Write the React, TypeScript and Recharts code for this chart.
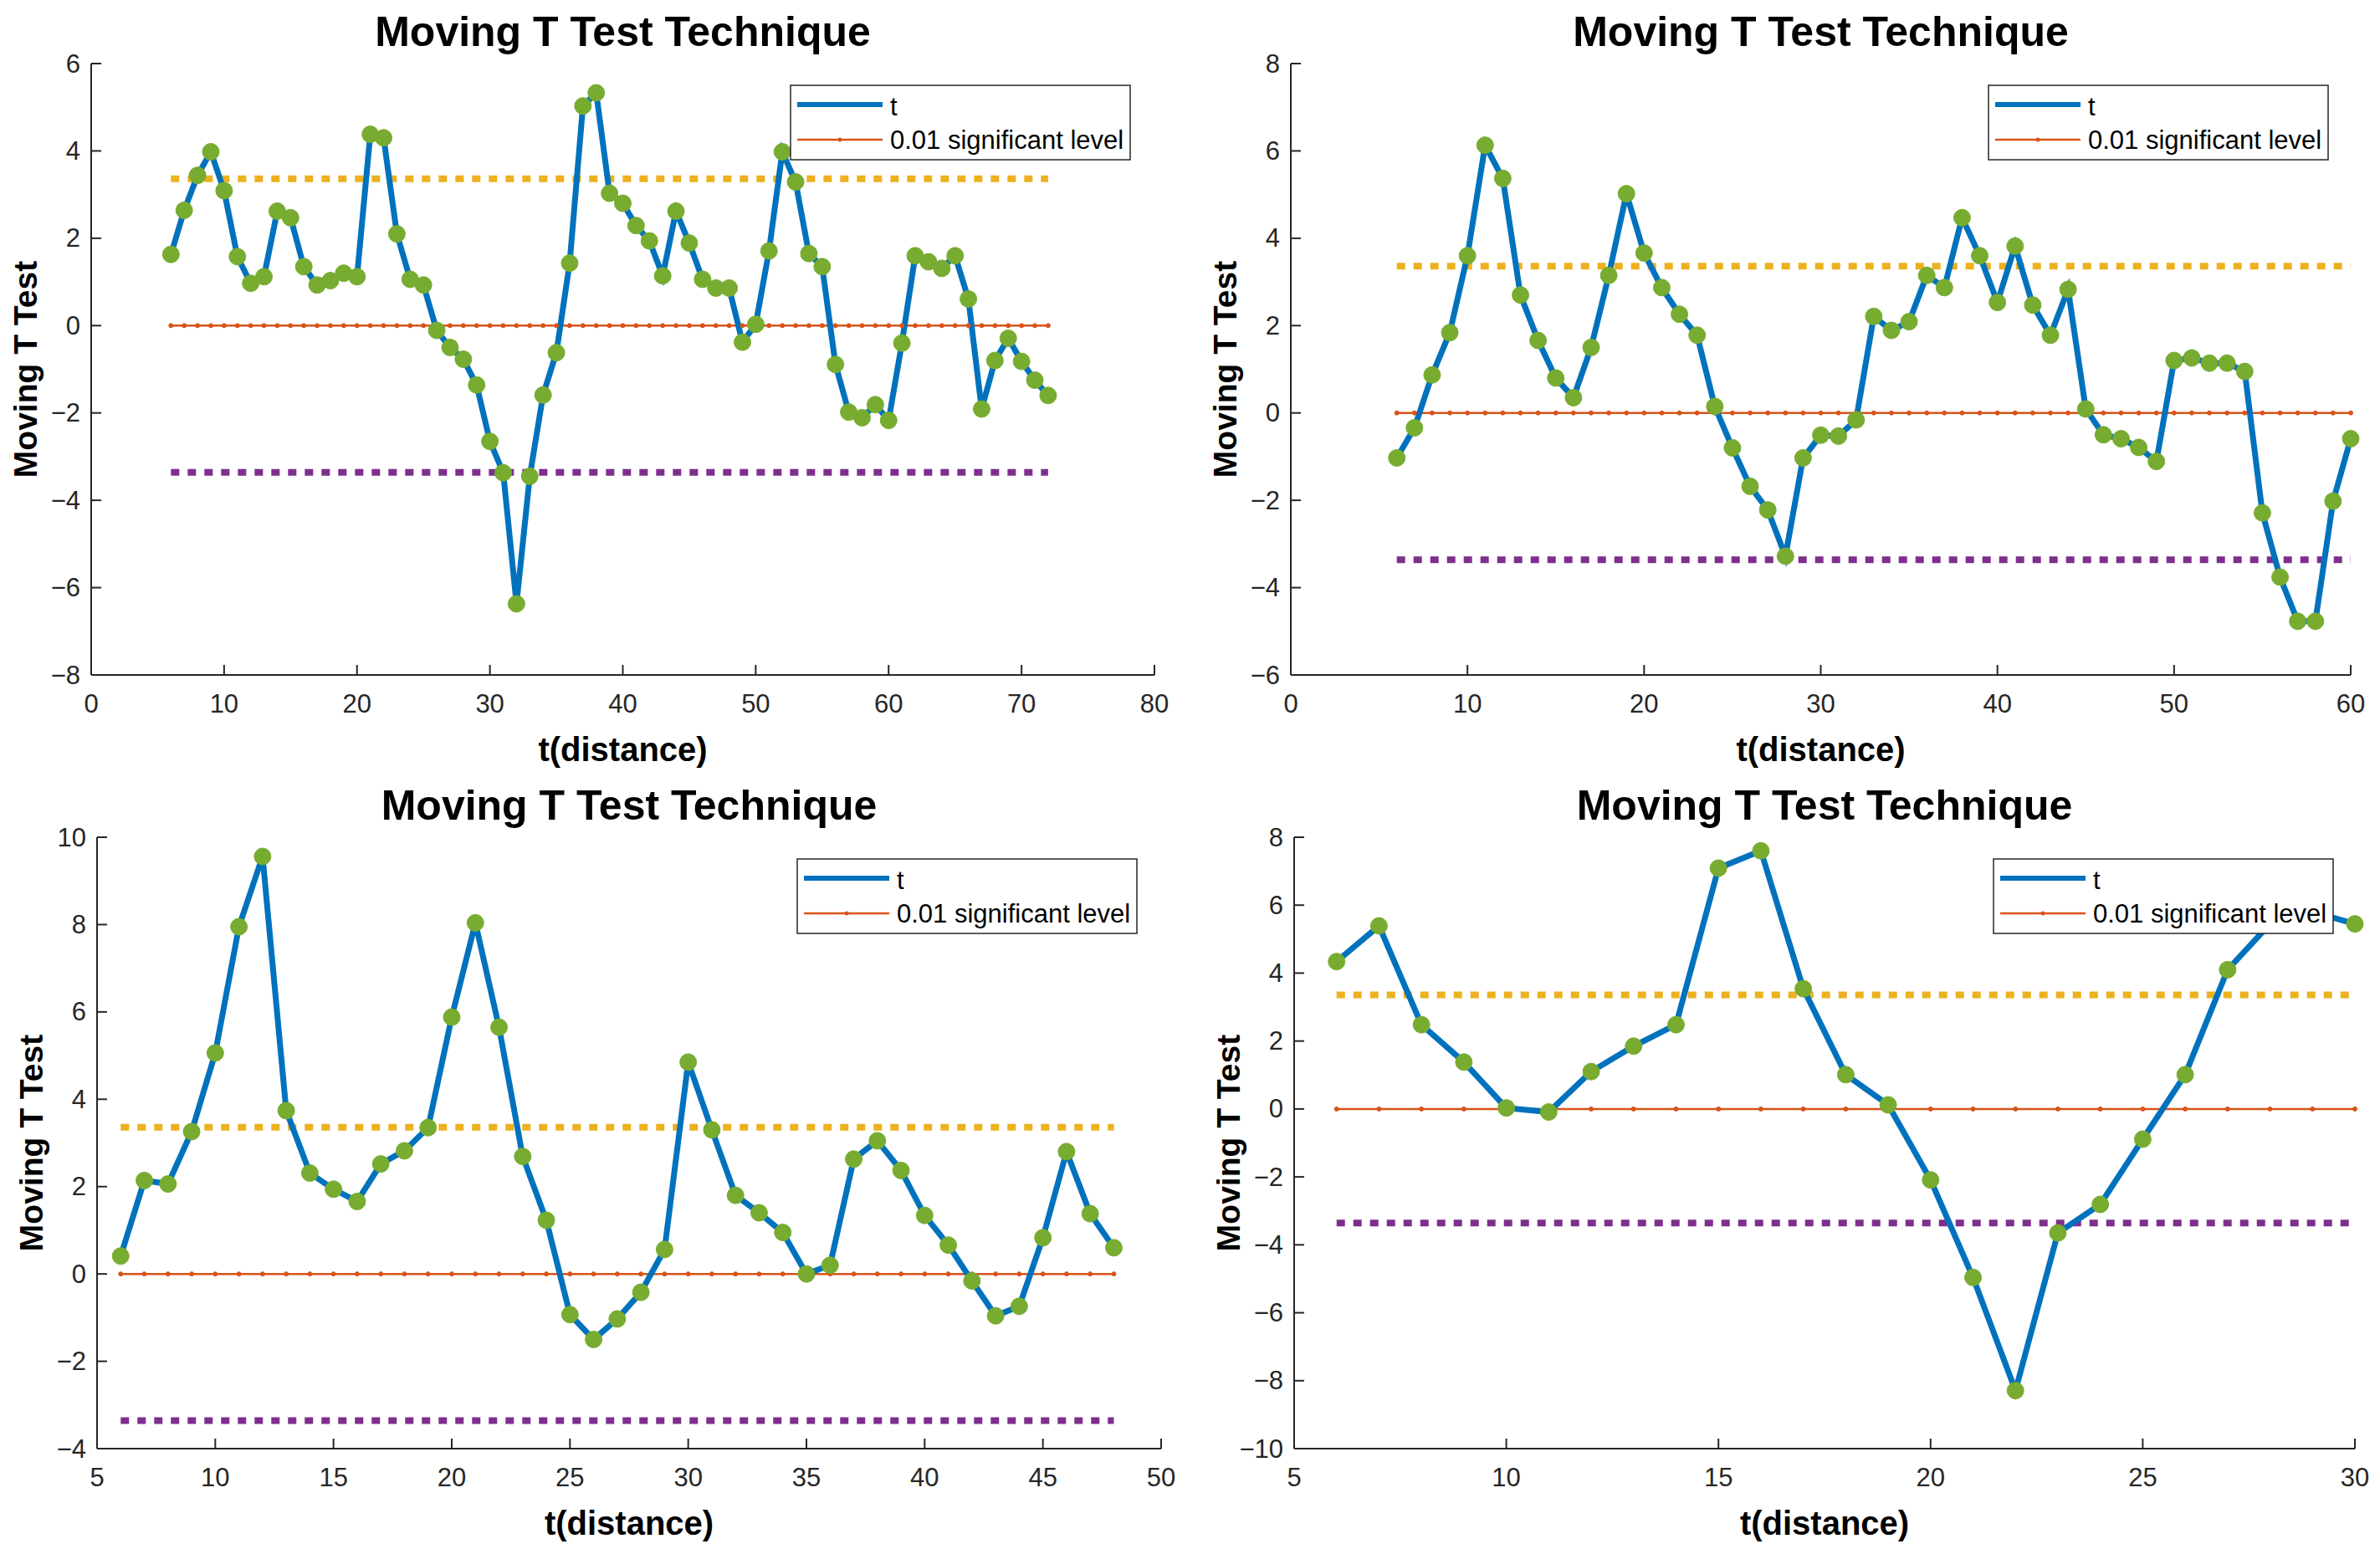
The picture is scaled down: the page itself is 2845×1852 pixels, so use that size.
import React from "react";
import { LineChart, Line, XAxis, YAxis } from "recharts";

const FONT = '"Liberation Sans", Arial, Helvetica, sans-serif';
const BLUE = "#0072BD";
const RED = "#D95319";
const GREEN = "#77AC30";
const YELLOW = "#EDB120";
const PURPLE = "#7E2F8E";
const AXIS = "#262626";

const SIG_LEVEL = 0;
const CRIT_UPPER = 3.36;
const CRIT_LOWER = -3.36;

// panel 1 (top left)
const dist1 = [
  6, 7, 8, 9, 10, 11, 12, 13, 14, 15, 16, 17, 18, 19, 20, 21, 22, 23, 24, 25, 26, 27, 28, 29, 30, 31, 32, 33, 34, 35, 36, 37, 38, 39,
  40, 41, 42, 43, 44, 45, 46, 47, 48, 49, 50, 51, 52, 53, 54, 55, 56, 57, 58, 59, 60, 61, 62, 63, 64, 65, 66, 67, 68, 69, 70, 71, 72,
];
const t1 = [
  1.63, 2.64, 3.44, 3.98, 3.09, 1.58, 0.97, 1.12, 2.62, 2.47, 1.35, 0.93, 1.03, 1.2, 1.12, 4.38, 4.3, 2.1, 1.06, 0.93, -0.11, -0.5,
  -0.77, -1.36, -2.65, -3.37, -6.37, -3.45, -1.59, -0.62, 1.43, 5.03, 5.33, 3.03, 2.8, 2.29, 1.94, 1.14, 2.62, 1.89, 1.06, 0.86, 0.86,
  -0.38, 0.03, 1.71, 3.98, 3.29, 1.65, 1.35, -0.89, -1.98, -2.11, -1.81, -2.17, -0.4, 1.6, 1.46, 1.31, 1.6, 0.61, -1.91, -0.8, -0.29,
  -0.82, -1.25, -1.6,
];
const xTicks1 = [0, 10, 20, 30, 40, 50, 60, 70, 80];
const yTicks1 = [-8, -6, -4, -2, 0, 2, 4, 6];

// panel 2 (top right)
const dist2 = [
  6, 7, 8, 9, 10, 11, 12, 13, 14, 15, 16, 17, 18, 19, 20, 21, 22, 23, 24, 25, 26, 27, 28, 29, 30, 31, 32, 33, 34, 35, 36, 37, 38, 39,
  40, 41, 42, 43, 44, 45, 46, 47, 48, 49, 50, 51, 52, 53, 54, 55, 56, 57, 58, 59, 60,
];
const t2 = [
  -1.03, -0.34, 0.87, 1.84, 3.6, 6.13, 5.37, 2.7, 1.66, 0.8, 0.35, 1.5, 3.15, 5.02, 3.66, 2.87, 2.26, 1.78, 0.15, -0.8, -1.68, -2.22,
  -3.28, -1.03, -0.51, -0.53, -0.16, 2.21, 1.89, 2.09, 3.15, 2.87, 4.47, 3.6, 2.53, 3.82, 2.47, 1.78, 2.83, 0.09, -0.5, -0.59, -0.79,
  -1.11, 1.2, 1.26, 1.14, 1.14, 0.95, -2.29, -3.76, -4.77, -4.77, -2.02, -0.59,
];
const xTicks2 = [0, 10, 20, 30, 40, 50, 60];
const yTicks2 = [-6, -4, -2, 0, 2, 4, 6, 8];

// panel 3 (bottom left)
const dist3 = [
  6, 7, 8, 9, 10, 11, 12, 13, 14, 15, 16, 17, 18, 19, 20, 21, 22, 23, 24, 25, 26, 27, 28, 29, 30, 31, 32, 33, 34, 35, 36, 37, 38, 39,
  40, 41, 42, 43, 44, 45, 46, 47, 48,
];
const t3 = [
  0.41, 2.14, 2.06, 3.26, 5.06, 7.95, 9.56, 3.74, 2.31, 1.94, 1.66, 2.52, 2.82, 3.35, 5.88, 8.04, 5.65, 2.69, 1.23, -0.93, -1.5, -1.03,
  -0.42, 0.56, 4.85, 3.3, 1.8, 1.4, 0.95, 0.0, 0.2, 2.63, 3.05, 2.37, 1.34, 0.66, -0.16, -0.96, -0.74, 0.83, 2.8, 1.38, 0.6,
];
const xTicks3 = [5, 10, 15, 20, 25, 30, 35, 40, 45, 50];
const yTicks3 = [-4, -2, 0, 2, 4, 6, 8, 10];

// panel 4 (bottom right)
const dist4 = [6, 7, 8, 9, 10, 11, 12, 13, 14, 15, 16, 17, 18, 19, 20, 21, 22, 23, 24, 25, 26, 27, 28, 29, 30];
const t4 = [
  4.34, 5.39, 2.48, 1.38, 0.03, -0.09, 1.1, 1.85, 2.48, 7.09, 7.6, 3.54, 1.01, 0.12, -2.09, -4.96, -8.29, -3.65, -2.81, -0.89, 1.01,
  4.1, 5.45, 5.8, 5.45,
];
const xTicks4 = [5, 10, 15, 20, 25, 30];
const yTicks4 = [-10, -8, -6, -4, -2, 0, 2, 4, 6, 8];

const fmt = (v: number) => (v < 0 ? `\u2212${Math.abs(v)}` : `${v}`);

// plot area offsets inside each chart
const PAD_L = 109;
const PAD_T = 76;
const PAD_R = 40;
const PAD_B = 120;

interface PanelProps {
  dist: number[];
  t: number[];
  xTicks: number[];
  yTicks: number[];
  plot: { l: number; t: number; r: number; b: number };
  legendLeft: number;
}

function Panel({ dist, t, xTicks, yTicks, plot, legendLeft }: PanelProps) {
  const data = dist.map((d, i) => ({
    d,
    t: t[i],
    sig: SIG_LEVEL,
    upper: CRIT_UPPER,
    lower: CRIT_LOWER,
  }));
  const w = plot.r - plot.l + PAD_L + PAD_R;
  const h = plot.b - plot.t + PAD_T + PAD_B;
  const pb = plot.b - plot.t + PAD_T;
  const cx = (plot.l + plot.r) / 2;
  const cy = (plot.t + plot.b) / 2;
  const lgTop = plot.t + 26;

  return (
    <>
      <div style={{ position: "absolute", left: plot.l - PAD_L, top: plot.t - PAD_T }}>
        <LineChart width={w} height={h} data={data} margin={{ top: PAD_T, right: PAD_R, left: 9, bottom: 0 }}>
          <XAxis
            dataKey="d"
            type="number"
            domain={[xTicks[0], xTicks[xTicks.length - 1]]}
            ticks={xTicks}
            height={PAD_B}
            interval={0}
            axisLine={{ stroke: AXIS, strokeWidth: 2 }}
            tickLine={false}
            tick={(p: any) => (
              <g>
                <line x1={p.x} x2={p.x} y1={pb} y2={pb - 12} stroke={AXIS} strokeWidth={2} />
                <text x={p.x} y={pb + 34} textAnchor="middle" dominantBaseline="central" fontFamily={FONT} fontSize={31} fill={AXIS}>
                  {fmt(p.payload.value)}
                </text>
              </g>
            )}
          />
          <YAxis
            type="number"
            domain={[yTicks[0], yTicks[yTicks.length - 1]]}
            ticks={yTicks}
            width={100}
            interval={0}
            axisLine={{ stroke: AXIS, strokeWidth: 2 }}
            tickLine={false}
            tick={(p: any) => (
              <g>
                <line x1={PAD_L} x2={PAD_L + 12} y1={p.y} y2={p.y} stroke={AXIS} strokeWidth={2} />
                <text x={PAD_L - 13} y={p.y} textAnchor="end" dominantBaseline="central" fontFamily={FONT} fontSize={31} fill={AXIS}>
                  {fmt(p.payload.value)}
                </text>
              </g>
            )}
          />
          <Line dataKey="upper" stroke={YELLOW} strokeWidth={8} strokeDasharray="10 10" dot={false} isAnimationActive={false} />
          <Line dataKey="lower" stroke={PURPLE} strokeWidth={8} strokeDasharray="10 10" dot={false} isAnimationActive={false} />
          <Line
            dataKey="sig"
            stroke={RED}
            strokeWidth={2.5}
            dot={{ r: 2.5, fill: RED, stroke: RED, strokeWidth: 1 }}
            isAnimationActive={false}
          />
          <Line
            dataKey="t"
            type="linear"
            stroke={BLUE}
            strokeWidth={7}
            dot={{ r: 10, fill: GREEN, stroke: GREEN, strokeWidth: 1 }}
            isAnimationActive={false}
          />
        </LineChart>
      </div>
      <svg
        style={{ position: "absolute", left: 0, top: 0, pointerEvents: "none" }}
        width={2845}
        height={1852}
        fontFamily={FONT}
      >
        <text x={cx} y={plot.t - 38} textAnchor="middle" dominantBaseline="central" fontSize={50} fontWeight="bold" fill="#000">
          Moving T Test Technique
        </text>
        <text x={cx} y={plot.b + 89} textAnchor="middle" dominantBaseline="central" fontSize={40} fontWeight="bold" fill="#000">
          t(distance)
        </text>
        <text
          x={plot.l - 79}
          y={cy}
          textAnchor="middle"
          dominantBaseline="central"
          fontSize={39}
          fontWeight="bold"
          fill="#000"
          transform={`rotate(-90 ${plot.l - 79} ${cy})`}
        >
          Moving T Test
        </text>
        <rect x={legendLeft} y={lgTop} width={406} height={89} fill="#fff" stroke={AXIS} strokeWidth={1.5} />
        <line x1={legendLeft + 8} x2={legendLeft + 110} y1={lgTop + 23} y2={lgTop + 23} stroke={BLUE} strokeWidth={6} />
        <text x={legendLeft + 119} y={lgTop + 25} dominantBaseline="central" fontSize={31} fill="#000">
          t
        </text>
        <line x1={legendLeft + 8} x2={legendLeft + 110} y1={lgTop + 65} y2={lgTop + 65} stroke={RED} strokeWidth={2.5} />
        <circle cx={legendLeft + 59} cy={lgTop + 65} r={2.5} fill={RED} />
        <text x={legendLeft + 119} y={lgTop + 65} dominantBaseline="central" fontSize={31} fill="#000">
          0.01 significant level
        </text>
      </svg>
    </>
  );
}

export default function App() {
  return (
    <div style={{ position: "absolute", left: 0, top: 0, width: 2845, height: 1852, background: "#fff" }}>
      <Panel dist={dist1} t={t1} xTicks={xTicks1} yTicks={yTicks1} plot={{ l: 109, t: 76, r: 1380, b: 807 }} legendLeft={945} />
      <Panel dist={dist2} t={t2} xTicks={xTicks2} yTicks={yTicks2} plot={{ l: 1543, t: 76, r: 2810, b: 807 }} legendLeft={2377} />
      <Panel dist={dist3} t={t3} xTicks={xTicks3} yTicks={yTicks3} plot={{ l: 116, t: 1001, r: 1388, b: 1732 }} legendLeft={953} />
      <Panel dist={dist4} t={t4} xTicks={xTicks4} yTicks={yTicks4} plot={{ l: 1547, t: 1001, r: 2815, b: 1732 }} legendLeft={2383} />
    </div>
  );
}
